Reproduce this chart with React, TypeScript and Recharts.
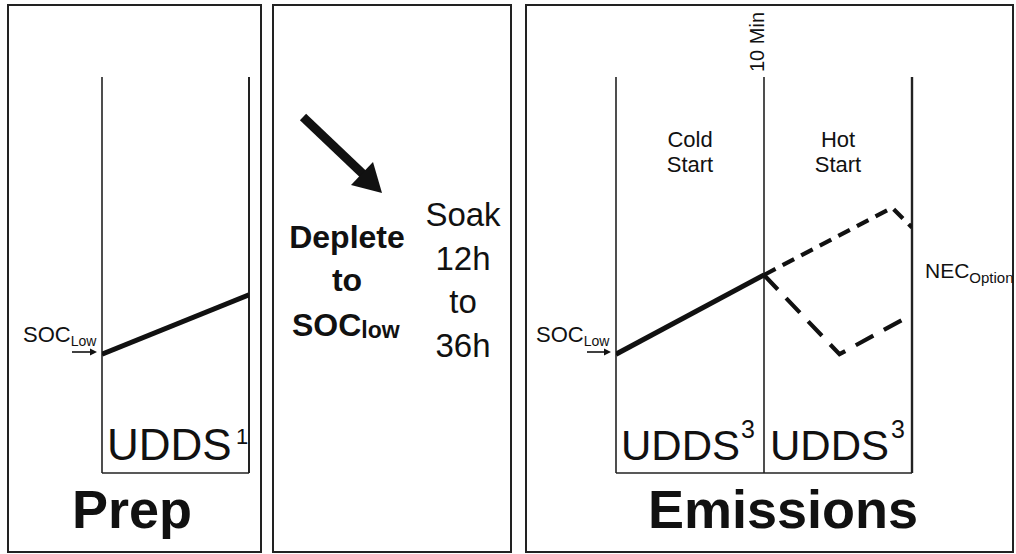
import React from "react";
import { LineChart, Line, XAxis, YAxis, ReferenceLine } from "recharts";

// ---- data (x = UDDS cycles, y = battery state of charge, %) ----
const prepCycles = [0, 1];
const prepSoc = [30, 45];

const coldCycles = [0, 1];
const coldSoc = [30, 50];

const hotUpperCycles = [1, 1.865, 2];
const hotUpperSoc = [50, 67, 62];

const hotLowerCycles = [1, 1.51, 1.95];
const hotLowerSoc = [50, 30, 39];

const socDomain = [0, 100];
const prepDomain = [0, 1];
const emisDomain = [0, 2];

const toRows = (xs: number[], ys: number[]) => xs.map((c, i) => ({ cycle: c, soc: ys[i] }));

const prepData = toRows(prepCycles, prepSoc);
const coldData = toRows(coldCycles, coldSoc);
const hotUpperData = toRows(hotUpperCycles, hotUpperSoc);
const hotLowerData = toRows(hotLowerCycles, hotLowerSoc);

const W = 1016;
const H = 554;
const FONT = '"Liberation Sans", Arial, Helvetica, sans-serif';
const INK = "#111";
const FRAME = "#222";

export default function App() {
  return (
    <div
      style={{
        position: "absolute",
        left: 0,
        top: 0,
        width: W,
        height: H,
        background: "#fff",
        overflow: "hidden",
        fontFamily: FONT,
      }}
    >
      {/* Prep panel chart */}
      <div style={{ position: "absolute", left: 0, top: 0 }}>
        <LineChart width={W} height={H} margin={{ top: 77, bottom: 81, left: 102, right: W - 249 }}>
          <XAxis type="number" dataKey="cycle" domain={prepDomain} hide allowDataOverflow />
          <YAxis type="number" domain={socDomain} hide />
          <ReferenceLine x={0} stroke={FRAME} strokeWidth={1.6} />
          <ReferenceLine x={1} stroke={FRAME} strokeWidth={2} />
          <ReferenceLine y={0} stroke={FRAME} strokeWidth={1.6} />
          <Line
            data={prepData}
            dataKey="soc"
            stroke={INK}
            strokeWidth={5}
            dot={false}
            activeDot={false}
            isAnimationActive={false}
          />
        </LineChart>
      </div>

      {/* Emissions panel chart */}
      <div style={{ position: "absolute", left: 0, top: 0 }}>
        <LineChart width={W} height={H} margin={{ top: 77, bottom: 81, left: 616, right: W - 912 }}>
          <XAxis type="number" dataKey="cycle" domain={emisDomain} hide allowDataOverflow />
          <YAxis type="number" domain={socDomain} hide />
          <ReferenceLine x={0} stroke={FRAME} strokeWidth={1.6} />
          <ReferenceLine x={1} stroke={FRAME} strokeWidth={1.6} />
          <ReferenceLine x={2} stroke={FRAME} strokeWidth={2.4} />
          <ReferenceLine y={0} stroke={FRAME} strokeWidth={1.6} />
          <Line
            data={coldData}
            dataKey="soc"
            stroke={INK}
            strokeWidth={5}
            dot={false}
            activeDot={false}
            isAnimationActive={false}
          />
          <Line
            data={hotUpperData}
            dataKey="soc"
            stroke={INK}
            strokeWidth={4.2}
            strokeDasharray="13 8"
            dot={false}
            activeDot={false}
            isAnimationActive={false}
          />
          <Line
            data={hotLowerData}
            dataKey="soc"
            stroke={INK}
            strokeWidth={4.2}
            strokeDasharray="20 12"
            dot={false}
            activeDot={false}
            isAnimationActive={false}
          />
        </LineChart>
      </div>

      {/* Annotation overlay: panel frames, labels, arrows */}
      <svg
        width={W}
        height={H}
        style={{ position: "absolute", left: 0, top: 0, pointerEvents: "none" }}
        fontFamily={FONT}
        fill={INK}
      >
        <rect x={8} y={5} width={253} height={547} fill="none" stroke={FRAME} strokeWidth={2} />
        <rect x={273} y={5} width={238} height={547} fill="none" stroke={FRAME} strokeWidth={2} />
        <rect x={526} y={5} width={487} height={547} fill="none" stroke={FRAME} strokeWidth={2} />

        {/* Prep panel */}
        <text x={23} y={342} fontSize={22}>
          SOC<tspan fontSize={14} dy={4}>Low</tspan>
        </text>
        <line x1={72} y1={352} x2={91} y2={352} stroke={INK} strokeWidth={1.6} />
        <polygon points="97,352 90,348.5 90,355.5" fill={INK} />
        <text x={107} y={460} fontSize={44}>UDDS</text>
        <text x={236} y={444} fontSize={22}>1</text>
        <text x={72} y={528} fontSize={54} fontWeight="bold">Prep</text>

        {/* Soak panel */}
        <line x1={303} y1={117} x2={364} y2={175} stroke={INK} strokeWidth={9} />
        <polygon points="382,193 351,185 373,162" fill={INK} />
        <text x={347} y={248} fontSize={32} fontWeight="bold" textAnchor="middle">Deplete</text>
        <text x={347} y={291} fontSize={32} fontWeight="bold" textAnchor="middle">to</text>
        <text x={292} y={336} fontSize={32} fontWeight="bold">
          SOC<tspan fontSize={23} dy={2}>low</tspan>
        </text>
        <text x={463} y={226} fontSize={33} textAnchor="middle">Soak</text>
        <text x={463} y={270} fontSize={33} textAnchor="middle">12h</text>
        <text x={463} y={313} fontSize={33} textAnchor="middle">to</text>
        <text x={463} y={357} fontSize={33} textAnchor="middle">36h</text>

        {/* Emissions panel */}
        <text x={764} y={42} fontSize={20} textAnchor="middle" transform="rotate(-90 764 42)">
          10 Min
        </text>
        <text x={690} y={147} fontSize={22} textAnchor="middle">Cold</text>
        <text x={690} y={172} fontSize={22} textAnchor="middle">Start</text>
        <text x={838} y={147} fontSize={22} textAnchor="middle">Hot</text>
        <text x={838} y={172} fontSize={22} textAnchor="middle">Start</text>
        <text x={536} y={342} fontSize={22}>
          SOC<tspan fontSize={14} dy={4}>Low</tspan>
        </text>
        <line x1={587} y1={352} x2={605} y2={352} stroke={INK} strokeWidth={1.6} />
        <polygon points="611,352 604,348.5 604,355.5" fill={INK} />
        <text x={925} y={278} fontSize={21}>
          NEC<tspan fontSize={15} dy={5}>Option</tspan>
        </text>
        <text x={621} y={460} fontSize={42}>UDDS</text>
        <text x={741} y={438} fontSize={25}>3</text>
        <text x={770} y={460} fontSize={42}>UDDS</text>
        <text x={891} y={438} fontSize={25}>3</text>
        <text x={648} y={528} fontSize={54} fontWeight="bold">Emissions</text>
      </svg>
    </div>
  );
}
